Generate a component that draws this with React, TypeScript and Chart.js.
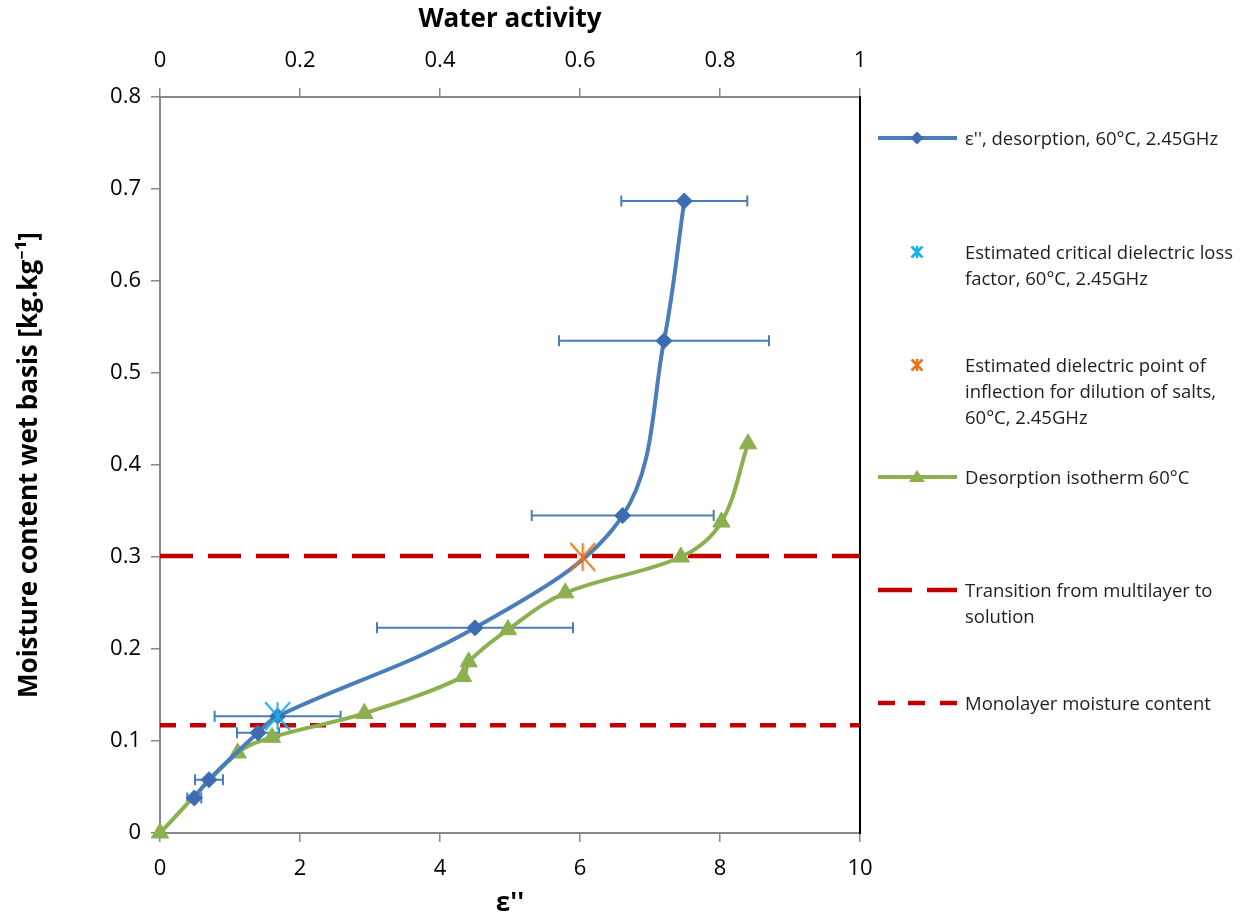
import React, { useEffect, useRef } from "react";
import { Chart, registerables } from "chart.js";

Chart.register(...registerables);

// ---------- data ----------
const blueX = [0.49, 0.7, 1.4, 1.68, 4.5, 6.61, 7.2, 7.49];
const blueY = [0.038, 0.058, 0.109, 0.127, 0.223, 0.345, 0.535, 0.687];
const blueErr = [0.1, 0.2, 0.3, 0.9, 1.4, 1.3, 1.5, 0.9];

const isoAw = [0, 0.111, 0.16, 0.292, 0.433, 0.441, 0.497, 0.579, 0.744, 0.802, 0.84];
const isoY = [0, 0.087, 0.104, 0.13, 0.17, 0.186, 0.221, 0.261, 0.3, 0.338, 0.423];

const criticalPoint = [1.68, 0.127];
const inflectionPoint = [6.04, 0.3];
const transitionLevel = 0.301;
const monolayerLevel = 0.117;

const xTickValues = [0, 2, 4, 6, 8, 10];
const xTickLabels = ["0", "2", "4", "6", "8", "10"];
const awTickValues = [0, 0.2, 0.4, 0.6, 0.8, 1];
const awTickLabels = ["0", "0.2", "0.4", "0.6", "0.8", "1"];
const yTickValues = [0, 0.1, 0.2, 0.3, 0.4, 0.5, 0.6, 0.7, 0.8];
const yTickLabels = ["0", "0.1", "0.2", "0.3", "0.4", "0.5", "0.6", "0.7", "0.8"];

const legendLabels = [
  ["ε'', desorption, 60°C, 2.45GHz"],
  ["Estimated critical dielectric loss", "factor, 60°C, 2.45GHz"],
  ["Estimated dielectric point of", "inflection for dilution of salts,", "60°C, 2.45GHz"],
  ["Desorption isotherm 60°C"],
  ["Transition from multilayer to", "solution"],
  ["Monolayer moisture content"],
];

// ---------- styles ----------
const BLUE_LINE = "#4a7ebb";
const BLUE_MARK = "#3d6cb3";
const GREEN = "#8cb050";
const RED = "#c00000";
const CYAN = "#1aaee8";
const ORANGE = "#e8731a";
const AXIS_GREY = "#888888";
const FONT = "'Open Sans', 'Noto Sans', sans-serif";

function makeStar(color: string, size: number, lw: number) {
  const c = document.createElement("canvas");
  c.width = size;
  c.height = size;
  const ctx = c.getContext("2d")!;
  ctx.strokeStyle = color;
  ctx.lineWidth = lw;
  ctx.lineCap = "butt";
  const m = lw / 2 + 0.5;
  ctx.beginPath();
  ctx.moveTo(size / 2, m);
  ctx.lineTo(size / 2, size - m);
  ctx.moveTo(m + size * 0.05, m);
  ctx.lineTo(size - m - size * 0.05, size - m);
  ctx.moveTo(size - m - size * 0.05, m);
  ctx.lineTo(m + size * 0.05, size - m);
  ctx.stroke();
  return c;
}

const errorBarPlugin = {
  id: "errorBars",
  beforeDatasetsDraw(chart: any) {
    const xs = chart.scales.x;
    const ys = chart.scales.y;
    const ctx = chart.ctx;
    ctx.save();
    ctx.strokeStyle = BLUE_LINE;
    ctx.lineWidth = 2;
    blueX.forEach((x, i) => {
      const py = ys.getPixelForValue(blueY[i]);
      const x0 = xs.getPixelForValue(x - blueErr[i]);
      const x1 = xs.getPixelForValue(x + blueErr[i]);
      ctx.beginPath();
      ctx.moveTo(x0, py);
      ctx.lineTo(x1, py);
      ctx.moveTo(x0, py - 5.5);
      ctx.lineTo(x0, py + 5.5);
      ctx.moveTo(x1, py - 5.5);
      ctx.lineTo(x1, py + 5.5);
      ctx.stroke();
    });
    ctx.restore();
  },
};

function fixedTicks(values: number[]) {
  return (scale: any) => {
    scale.ticks = values.map((v) => ({ value: v }));
  };
}

const LEG_ICON_X = 870;
const LEG_TEXT_X = 965;
const legendY = [138, 252, 365, 477, 590, 703];

function LegendIcon({ kind }: { kind: number }) {
  const w = 95;
  const h = 24;
  const cy = 12;
  const x0 = 878 - LEG_ICON_X;
  const x1 = 957 - LEG_ICON_X;
  const xm = 917 - LEG_ICON_X;
  let content: any = null;
  if (kind === 0) {
    content = (
      <g>
        <line x1={x0} y1={cy} x2={x1} y2={cy} stroke={BLUE_LINE} strokeWidth={4} />
        <polygon points={`${xm},${cy - 6.5} ${xm + 6.5},${cy} ${xm},${cy + 6.5} ${xm - 6.5},${cy}`} fill={BLUE_MARK} />
      </g>
    );
  } else if (kind === 1 || kind === 2) {
    const col = kind === 1 ? CYAN : ORANGE;
    const s = 5.5;
    content = (
      <g stroke={col} strokeWidth={2.6}>
        <line x1={xm} y1={cy - s - 0.5} x2={xm} y2={cy + s + 0.5} />
        <line x1={xm - s} y1={cy - s} x2={xm + s} y2={cy + s} />
        <line x1={xm + s} y1={cy - s} x2={xm - s} y2={cy + s} />
      </g>
    );
  } else if (kind === 3) {
    content = (
      <g>
        <line x1={x0} y1={cy} x2={x1} y2={cy} stroke={GREEN} strokeWidth={4} />
        <polygon points={`${xm},${cy - 7} ${xm + 8},${cy + 5} ${xm - 8},${cy + 5}`} fill={GREEN} />
      </g>
    );
  } else if (kind === 4) {
    content = (
      <g stroke={RED} strokeWidth={4.5}>
        <line x1={x0} y1={cy} x2={x0 + 34} y2={cy} />
        <line x1={x0 + 49} y1={cy} x2={x1} y2={cy} />
      </g>
    );
  } else {
    content = (
      <g stroke={RED} strokeWidth={4.5}>
        <line x1={x0} y1={cy} x2={x0 + 17} y2={cy} />
        <line x1={x0 + 30} y1={cy} x2={x0 + 47} y2={cy} />
        <line x1={x0 + 62} y1={cy} x2={x1} y2={cy} />
      </g>
    );
  }
  return (
    <svg width={w} height={h} style={{ position: "absolute", left: LEG_ICON_X, top: legendY[kind] - cy }}>
      {content}
    </svg>
  );
}

export default function App() {
  const ref = useRef<HTMLCanvasElement | null>(null);

  useEffect(() => {
    document.body.style.margin = "0";
    const canvas = ref.current!;
    const cyanStar = makeStar(CYAN, 31, 2);
    const orangeStar = makeStar(ORANGE, 31, 2);
    const tickFont = { family: FONT, size: 22 };
    const titleFont = { family: FONT, size: 26, weight: "bold" as const };

    const chart = new Chart(canvas, {
      type: "scatter",
      data: {
        datasets: [
          {
            label: "critical",
            data: [{ x: criticalPoint[0], y: criticalPoint[1] }],
            pointStyle: cyanStar as any,
            pointRadius: 15,
            xAxisID: "x",
            yAxisID: "y",
            order: 0,
            clip: false as any,
          },
          {
            label: "inflection",
            data: [{ x: inflectionPoint[0], y: inflectionPoint[1] }],
            pointStyle: orangeStar as any,
            pointRadius: 15,
            xAxisID: "x",
            yAxisID: "y",
            order: 1,
            clip: false as any,
          },
          {
            label: "blue",
            data: blueX.map((x, i) => ({ x, y: blueY[i] })),
            showLine: true,
            borderColor: BLUE_LINE,
            borderWidth: 4,
            tension: 0.35,
            pointStyle: "rectRot",
            pointRadius: 8,
            pointBackgroundColor: BLUE_MARK,
            pointBorderColor: BLUE_MARK,
            pointBorderWidth: 1,
            xAxisID: "x",
            yAxisID: "y",
            order: 2,
            clip: false as any,
          },
          {
            label: "iso",
            data: isoAw.map((x, i) => ({ x, y: isoY[i] })),
            showLine: true,
            borderColor: GREEN,
            borderWidth: 4,
            tension: 0.35,
            pointStyle: "triangle",
            pointRadius: 10,
            pointBackgroundColor: GREEN,
            pointBorderColor: GREEN,
            pointBorderWidth: 1,
            xAxisID: "x2",
            yAxisID: "y",
            order: 3,
            clip: false as any,
          },
          {
            label: "transition",
            data: [
              { x: 0, y: transitionLevel },
              { x: 10, y: transitionLevel },
            ],
            showLine: true,
            borderColor: RED,
            borderWidth: 4.5,
            borderDash: [33, 15],
            pointRadius: 0,
            xAxisID: "x",
            yAxisID: "y",
            order: 4,
          },
          {
            label: "monolayer",
            data: [
              { x: 0, y: monolayerLevel },
              { x: 10, y: monolayerLevel },
            ],
            showLine: true,
            borderColor: RED,
            borderWidth: 4.5,
            borderDash: [16, 14],
            pointRadius: 0,
            xAxisID: "x",
            yAxisID: "y",
            order: 5,
          },
        ],
      },
      options: {
        animation: false,
        responsive: false,
        events: [],
        layout: { padding: 0 },
        plugins: {
          legend: { display: false },
          tooltip: { enabled: false },
        },
        scales: {
          x: {
            type: "linear",
            position: "bottom",
            min: 0,
            max: 10,
            afterBuildTicks: fixedTicks(xTickValues),
            afterFit: (s: any) => {
              s.height = 86;
            },
            ticks: {
              autoSkip: false,
              maxRotation: 0,
              padding: 14,
              color: "#000",
              font: tickFont,
              callback: (_v: any, i: number) => xTickLabels[i],
            },
            grid: { drawOnChartArea: false, drawTicks: true, tickLength: 9, color: AXIS_GREY, lineWidth: 1.5 },
            border: { color: AXIS_GREY, width: 2 },
            title: { display: true, text: "ε''", color: "#000", font: titleFont, padding: { top: 0, bottom: 0 } },
          },
          x2: {
            type: "linear",
            position: "top",
            min: 0,
            max: 1,
            afterBuildTicks: fixedTicks(awTickValues),
            afterFit: (s: any) => {
              s.height = 97;
            },
            ticks: {
              autoSkip: false,
              maxRotation: 0,
              padding: 14,
              color: "#000",
              font: tickFont,
              callback: (_v: any, i: number) => awTickLabels[i],
            },
            grid: { drawOnChartArea: false, drawTicks: true, tickLength: 9, color: AXIS_GREY, lineWidth: 1.5 },
            border: { color: AXIS_GREY, width: 2 },
            title: { display: true, text: "Water activity", color: "#000", font: titleFont, padding: { top: 4, bottom: 0 } },
          },
          y: {
            type: "linear",
            position: "left",
            min: 0,
            max: 0.8,
            afterBuildTicks: fixedTicks(yTickValues),
            afterFit: (s: any) => {
              s.width = 160;
            },
            ticks: {
              autoSkip: false,
              padding: 10,
              color: "#000",
              font: tickFont,
              callback: (_v: any, i: number) => yTickLabels[i],
            },
            grid: { drawOnChartArea: false, drawTicks: true, tickLength: 9, color: AXIS_GREY, lineWidth: 1.5 },
            border: { color: AXIS_GREY, width: 2 },
            title: {
              display: true,
              text: "Moisture content wet basis [kg.kg⁻¹]",
              color: "#000",
              font: titleFont,
              padding: { top: 14, bottom: 0 },
            },
          },
          y2: {
            type: "linear",
            position: "right",
            min: 0,
            max: 0.8,
            afterFit: (s: any) => {
              s.width = 384;
            },
            ticks: { display: false },
            grid: { display: false },
            border: { color: "#000", width: 2 },
          },
        },
      },
      plugins: [errorBarPlugin],
    } as any);
    return () => chart.destroy();
  }, []);

  return (
    <div style={{ position: "relative", width: 1244, height: 919, background: "#fff", fontFamily: FONT }}>
      <canvas ref={ref} width={1244} height={919} style={{ position: "absolute", left: 0, top: 0, display: "block" }} />
      {legendLabels.map((lines, k) => (
        <React.Fragment key={k}>
          <LegendIcon kind={k} />
          <div
            style={{
              position: "absolute",
              left: LEG_TEXT_X,
              top: legendY[k] - 13,
              fontSize: 18.5,
              lineHeight: "26px",
              color: "#1e1e1e",
              whiteSpace: "nowrap",
            }}
          >
            {lines.map((t, j) => (
              <div key={j}>{t}</div>
            ))}
          </div>
        </React.Fragment>
      ))}
    </div>
  );
}
